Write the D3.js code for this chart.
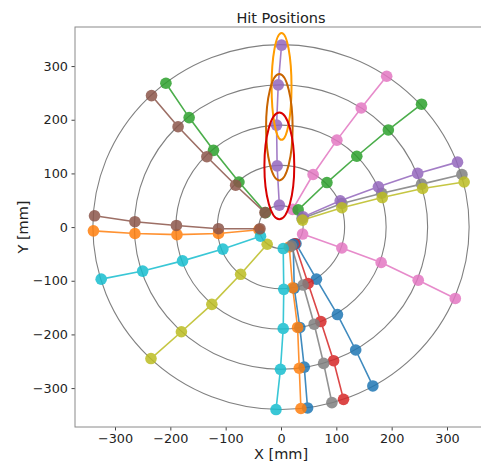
<!DOCTYPE html>
<html lang="en">
<head>
<meta charset="UTF-8">
<title>Hit Positions</title>
<script src="https://cdn.jsdelivr.net/npm/d3@7"></script>
<style>
  body { margin: 0; background: #fff; }
  text { font-family: "DejaVu Sans", sans-serif; fill: #222; }
</style>
</head>
<body>
<div id="chart"></div>
<script>
// detector layer radii [mm]
var layerRadii = [40, 115, 190, 265, 340];

// hit positions per track, inner layer -> outer layer, [x, y] in mm
var tracks = [
  [[27, -31], [64, -97], [102, -163], [135, -229], [166, -296]],
  [[-40, -5], [-113, -12], [-188, -14], [-264, -12], [-339, -7]],
  [[-28, 27], [-76, 84], [-122, 143], [-166, 204], [-208, 268]],
  [[25, -31], [49, -105], [72, -176], [95, -249], [113, -321]],
  [[-3, 41], [-7, 114], [-8, 190], [-5, 265], [1, 339]],
  [[-29, 27], [-82, 78], [-134, 131], [-186, 187], [-234, 245]],
  [[21, 33], [58, 98], [101, 162], [145, 222], [191, 281]],
  [[38, 16], [110, 44], [182, 63], [254, 80], [327, 98]],
  [[-25, -32], [-73, -88], [-125, -144], [-180, -195], [-235, -245]],
  [[-37, -17], [-105, -41], [-178, -63], [-250, -82], [-325, -97]],
  [[22, -32], [24, -114], [34, -187], [42, -261], [48, -337]],
  [[15, -37], [21, -113], [30, -187], [33, -263], [36, -338]],
  [[31, 32], [83, 83], [137, 132], [194, 181], [254, 229]],
  [[40, 19], [107, 49], [176, 75], [247, 100], [319, 121]],
  [[-38, -3], [-113, -3], [-189, 3], [-264, 10], [-337, 21]],
  [[39, -13], [110, -39], [181, -66], [248, -99], [315, -133]],
  [[19, -35], [40, -108], [60, -181], [77, -254], [92, -327]],
  [[39, 13], [110, 36], [183, 55], [256, 72], [331, 84]],
  [[4, -40], [5, -116], [4, -189], [-1, -265], [-9, -340]]
];
// colour index of each track in the category10 cycle
var trackColor = [0, 1, 2, 3, 4, 5, 6, 7, 8, 9, 0, 1, 2, 4, 5, 6, 7, 8, 9];

// highlighted regions: centre x, centre y, width, height [mm]
var regionCx = [1, -3, -3];
var regionCy = [262, 186, 114];
var regionW = [36, 48, 54];
var regionH = [199, 198, 199];
var regionColor = ["#ff9c00", "#c86400", "#d80000"];

var xTicks = [-300, -200, -100, 0, 100, 200, 300];
var yTicks = [-300, -200, -100, 0, 100, 200, 300];

var W = 481, H = 462;
var mLeft = 75, mRight = 487, mTop = 27, mBottom = 427;

var svg = d3.select("#chart").append("svg")
  .attr("width", W)
  .attr("height", H);

var x = d3.scaleLinear().domain([-372.3, 372.3]).range([mLeft, mRight]);
var y = d3.scaleLinear().domain([-372.5, 372.8]).range([mBottom, mTop]);
var color = d3.schemeCategory10;

var plot = svg.append("g");

// layer circles (scales differ a bit on x and y)
plot.selectAll(".layer")
  .data(layerRadii)
  .enter().append("ellipse")
  .attr("cx", x(0))
  .attr("cy", y(0))
  .attr("rx", function (r) { return x(r) - x(0); })
  .attr("ry", function (r) { return y(0) - y(r); })
  .attr("fill", "none")
  .attr("stroke", "#808080")
  .attr("stroke-width", 1.1);

// tracks
var line = d3.line()
  .x(function (d) { return x(d[0]); })
  .y(function (d) { return y(d[1]); });

var trk = plot.selectAll(".track")
  .data(tracks)
  .enter().append("g")
  .attr("class", "track")
  .attr("opacity", 0.85);

trk.append("path")
  .attr("d", line)
  .attr("fill", "none")
  .attr("stroke", function (d, i) { return color[trackColor[i]]; })
  .attr("stroke-width", 1.6);

trk.each(function (d, i) {
  d3.select(this).selectAll("circle")
    .data(d)
    .enter().append("circle")
    .attr("cx", function (p) { return x(p[0]); })
    .attr("cy", function (p) { return y(p[1]); })
    .attr("r", 5.8)
    .attr("fill", color[trackColor[i]]);
});

// highlighted regions
plot.selectAll(".region")
  .data(regionCx)
  .enter().append("ellipse")
  .attr("cx", function (d) { return x(d); })
  .attr("cy", function (d, i) { return y(regionCy[i]); })
  .attr("rx", function (d, i) { return x(regionW[i] / 2) - x(0); })
  .attr("ry", function (d, i) { return y(0) - y(regionH[i] / 2); })
  .attr("fill", "none")
  .attr("stroke", function (d, i) { return regionColor[i]; })
  .attr("stroke-width", 2);

// axes
var fmt = function (d) { return d < 0 ? "\u2212" + (-d) : d; };
var xAxis = svg.append("g")
  .attr("transform", "translate(0," + mBottom + ")")
  .call(d3.axisBottom(x).tickValues(xTicks).tickSize(3.5).tickPadding(3.5).tickFormat(fmt));
var yAxis = svg.append("g")
  .attr("transform", "translate(" + mLeft + ",0)")
  .call(d3.axisLeft(y).tickValues(yTicks).tickSize(3.5).tickPadding(3.5).tickFormat(fmt));

[xAxis, yAxis].forEach(function (a) {
  a.select(".domain").remove();
  a.selectAll("line").attr("stroke", "#444");
  a.selectAll("text")
    .style("font-size", "12.8px")
    .style("font-family", "'DejaVu Sans', sans-serif")
    .attr("fill", "#222");
});

// frame
svg.append("rect")
  .attr("x", mLeft)
  .attr("y", mTop)
  .attr("width", mRight - mLeft)
  .attr("height", mBottom - mTop)
  .attr("fill", "none")
  .attr("stroke", "#8a8a8a")
  .attr("stroke-width", 1);

svg.append("text")
  .attr("x", 281)
  .attr("y", 22.5)
  .attr("text-anchor", "middle")
  .style("font-size", "14.5px")
  .text("Hit Positions");

svg.append("text")
  .attr("x", 281)
  .attr("y", 459)
  .attr("text-anchor", "middle")
  .style("font-size", "14.5px")
  .text("X [mm]");

svg.append("text")
  .attr("transform", "translate(28," + ((mTop + mBottom) / 2) + ") rotate(-90)")
  .attr("text-anchor", "middle")
  .style("font-size", "14.5px")
  .text("Y [mm]");
</script>
</body>
</html>
